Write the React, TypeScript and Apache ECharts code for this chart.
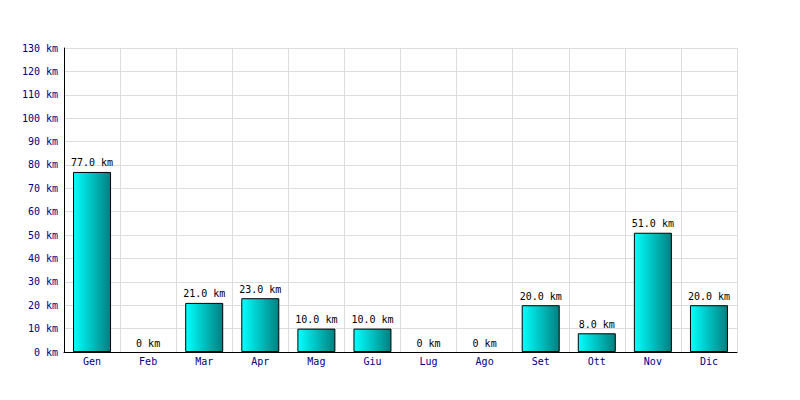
import React, { useEffect, useRef } from "react";
import * as echarts from "echarts";

const categories = ["Gen", "Feb", "Mar", "Apr", "Mag", "Giu", "Lug", "Ago", "Set", "Ott", "Nov", "Dic"];
const distances = [77, 0, 21, 23, 10, 10, 0, 0, 20, 8, 51, 20];
const yMax = 130;
const yStep = 10;

export default function App() {
  const ref = useRef<HTMLDivElement>(null);
  useEffect(() => {
    const chart = echarts.init(ref.current!, null, { renderer: "svg" });
    const font = "'DejaVu Sans Mono', 'Liberation Mono', monospace";
    chart.setOption({
      animation: false,
      backgroundColor: "#ffffff",
      grid: { left: 64, right: 63, top: 48, bottom: 48, show: false },
      xAxis: {
        type: "category",
        data: categories,
        axisLine: { show: true, lineStyle: { color: "#000000", width: 1 } },
        axisTick: { show: false },
        axisLabel: { color: "#000080", fontFamily: font, fontSize: 10, margin: 4 },
        splitLine: { show: true, interval: 0, lineStyle: { color: "#dddddd", width: 1 } },
        boundaryGap: true,
      },
      yAxis: {
        type: "value",
        min: 0,
        max: yMax,
        interval: yStep,
        axisLine: { show: true, lineStyle: { color: "#000000", width: 1 } },
        axisTick: { show: false },
        axisLabel: {
          color: "#000080",
          fontFamily: font,
          fontSize: 10,
          margin: 6,
          formatter: (v: number) => `${v} km`,
        },
        splitLine: { show: true, lineStyle: { color: "#dddddd", width: 1 } },
      },
      series: [
        {
          type: "bar",
          data: distances.map((v) =>
            v === 0
              ? { value: v, itemStyle: { borderWidth: 0, borderColor: "rgba(0,0,0,0)" } }
              : v
          ),
          barWidth: 38,
          itemStyle: {
            color: new echarts.graphic.LinearGradient(0, 0, 1, 0, [
              { offset: 0, color: "#00ffff" },
              { offset: 1, color: "#008080" },
            ]),
            borderColor: "#000000",
            borderWidth: 1,
          },
          label: {
            show: true,
            position: "top",
            distance: 4,
            color: "#000000",
            fontFamily: font,
            fontSize: 10,
            formatter: (p: any) => (p.value === 0 ? "0 km" : `${p.value.toFixed(1)} km`),
          },
        },
      ],
    });
    return () => chart.dispose();
  }, []);
  return <div ref={ref} style={{ width: 800, height: 400, position: "absolute", left: 0, top: 0 }} />;
}
